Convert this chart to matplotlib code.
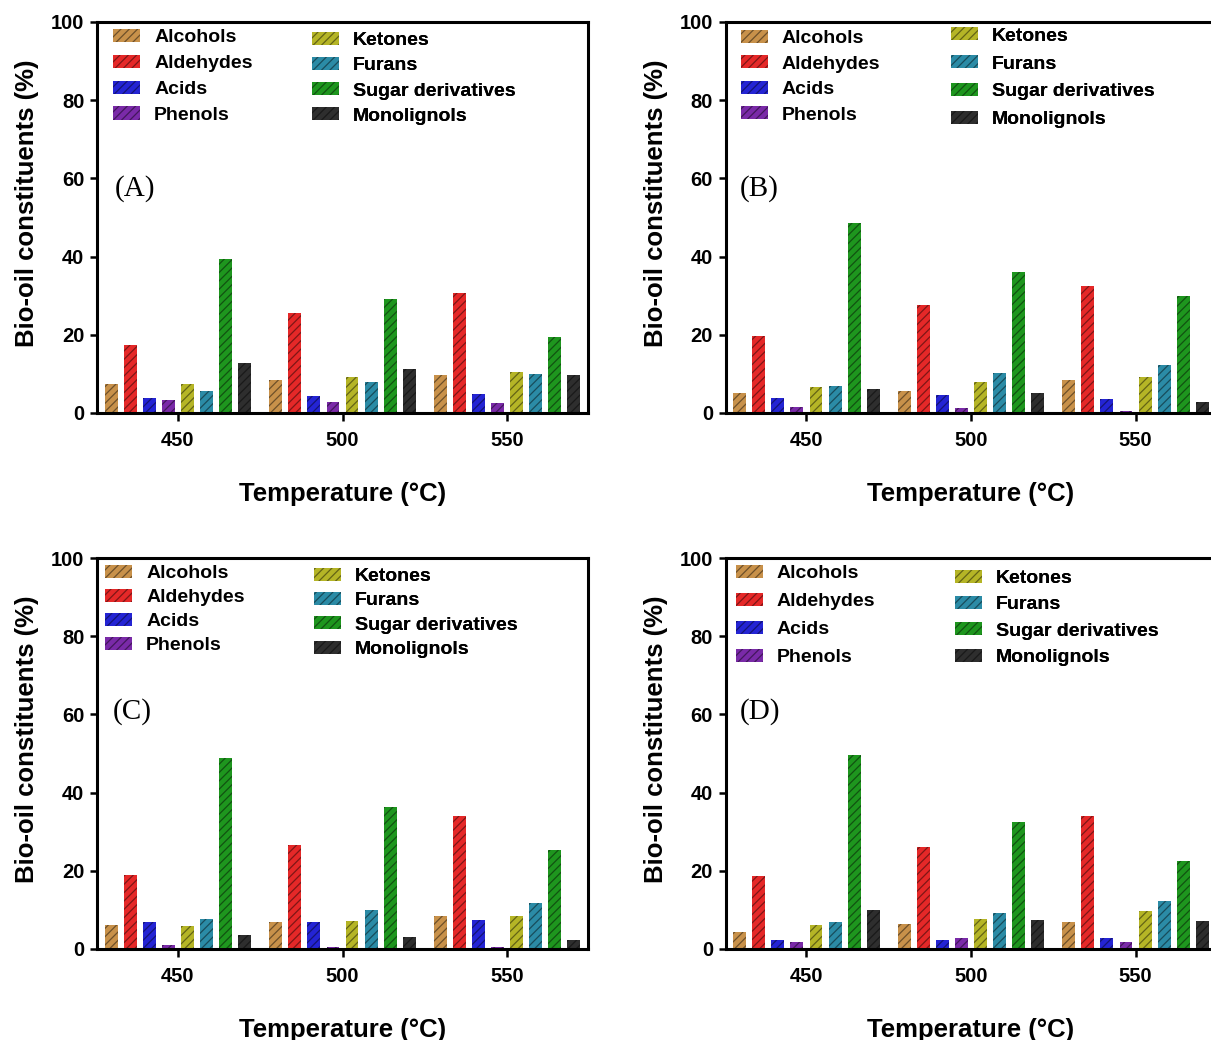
import matplotlib
matplotlib.use('Agg')
import matplotlib.pyplot as plt
import numpy as np
from matplotlib.colors import to_rgb

temperatures = [450, 500, 550]
categories = ['Alcohols', 'Aldehydes', 'Acids', 'Phenols',
              'Ketones', 'Furans', 'Sugar derivatives', 'Monolignols']
colors = ['#C8914A', '#E52828', '#2424D4', '#7A2AA8',
          '#B5B526', '#2B8BA6', '#1E961E', '#2E2E2E']

# rows follow categories, columns follow temperatures
panel_A = [[7.4, 8.4, 9.7], [17.4, 25.5, 30.6], [3.8, 4.4, 4.8], [3.3, 2.8, 2.6],
           [7.4, 9.1, 10.6], [5.6, 8.0, 9.9], [39.4, 29.2, 19.5], [12.7, 11.2, 9.7]]
panel_B = [[5.0, 5.6, 8.4], [19.7, 27.7, 32.6], [3.8, 4.6, 3.6], [1.5, 1.2, 0.6],
           [6.7, 8.0, 9.1], [6.9, 10.2, 12.3], [48.6, 36.1, 29.9], [6.2, 5.0, 2.8]]
panel_C = [[6.1, 6.9, 8.4], [18.9, 26.6, 33.9], [6.8, 6.9, 7.5], [0.9, 0.6, 0.6],
           [5.8, 7.2, 8.4], [7.7, 10.0, 11.8], [48.8, 36.2, 25.2], [3.5, 3.0, 2.3]]
panel_D = [[4.3, 6.4, 6.8], [18.6, 26.1, 34.0], [2.4, 2.4, 2.8], [1.7, 2.7, 1.9],
           [6.1, 7.8, 9.6], [6.8, 9.2, 12.3], [49.5, 32.6, 22.6], [9.9, 7.4, 7.1]]
panel_names = ['(A)', '(B)', '(C)', '(D)']

W, H = 1211, 1040
AX_W, AX_H = 491, 391
# axes left/top in pixels, legend columns (x, first row y, row step) in px from axes top-left
layout = [
    dict(left=97, top=22, lab=(18, 189 - 22), cols=[(16, 14, 26.7), (215, 17, 26.0)]),
    dict(left=725.5, top=22, lab=(14, 189 - 22), cols=[(15, 14.7, 26.4), (225, 12.3, 28.8)]),
    dict(left=97, top=558, lab=(16, 712 - 558), cols=[(8, 14, 24.8), (217, 16.5, 25.3)]),
    dict(left=725.5, top=558, lab=(14, 712 - 558), cols=[(10, 13.7, 28.9), (229, 18.7, 27.2)]),
]

plt.rcParams['font.family'] = ['Liberation Sans', 'DejaVu Sans']
plt.rcParams['font.weight'] = 'bold'
plt.rcParams['hatch.linewidth'] = 0.9

fig = plt.figure(figsize=(W / 100, H / 100), dpi=100)

step = 5.8
width = 3.9
leg_fs = 14
fs_px = leg_fs * 100 / 72


def add_legend(ax, handles, labels, x_px, y_px, step_px):
    line_h = 0.94 * fs_px
    leg = ax.legend(handles, labels, loc='upper left',
                    bbox_to_anchor=(x_px / AX_W, 1 - (y_px - 7) / AX_H),
                    frameon=False, borderpad=0, borderaxespad=0,
                    handlelength=1.4, handleheight=0.66, handletextpad=0.72,
                    labelspacing=(step_px - line_h) / fs_px,
                    prop=dict(family='Liberation Sans', weight='bold', size=leg_fs))
    ax.add_artist(leg)


for data, name, lay in zip([panel_A, panel_B, panel_C, panel_D], panel_names, layout):
    ax = fig.add_axes([lay['left'] / W, 1 - (lay['top'] + AX_H) / H, AX_W / W, AX_H / H])
    bars = []
    for i, (cat, col) in enumerate(zip(categories, colors)):
        dark = tuple(c * 0.55 for c in to_rgb(col))
        x = np.array(temperatures) + (i - 3.5) * step
        b = ax.bar(x, data[i], width=width, color=col, edgecolor=dark,
                   linewidth=0, hatch='////', label=cat)
        bars.append(b)

    ax.set_xlim(425.4, 574.6)
    ax.set_ylim(0, 100)
    ax.set_yticks(range(0, 101, 20))
    ax.set_xticks(temperatures)
    for s in ax.spines.values():
        s.set_linewidth(2.2)
    ax.tick_params(axis='y', length=5, width=1.8, pad=4, labelsize=14.5)
    ax.tick_params(axis='x', length=6, width=1.8, pad=7, labelsize=14.5)

    ax.set_xlabel('Temperature (°C)', fontsize=18.5, fontweight='bold')
    ax.xaxis.set_label_coords(0.5, -(482 - 413) / AX_H)
    ax.set_ylabel('Bio-oil constituents (%)', fontsize=18.5, fontweight='bold')
    ax.yaxis.set_label_coords(-58 / AX_W, 0.537)

    ax.text(lay['lab'][0] / AX_W, 1 - lay['lab'][1] / AX_H, name,
            transform=ax.transAxes, va='center', ha='left',
            fontsize=21, fontweight='normal', family='Liberation Serif')

    c1, c2 = lay['cols']
    add_legend(ax, bars[:4], categories[:4], *c1)
    add_legend(ax, bars[4:], categories[4:], *c2)

fig.savefig('out.png', dpi=100)
